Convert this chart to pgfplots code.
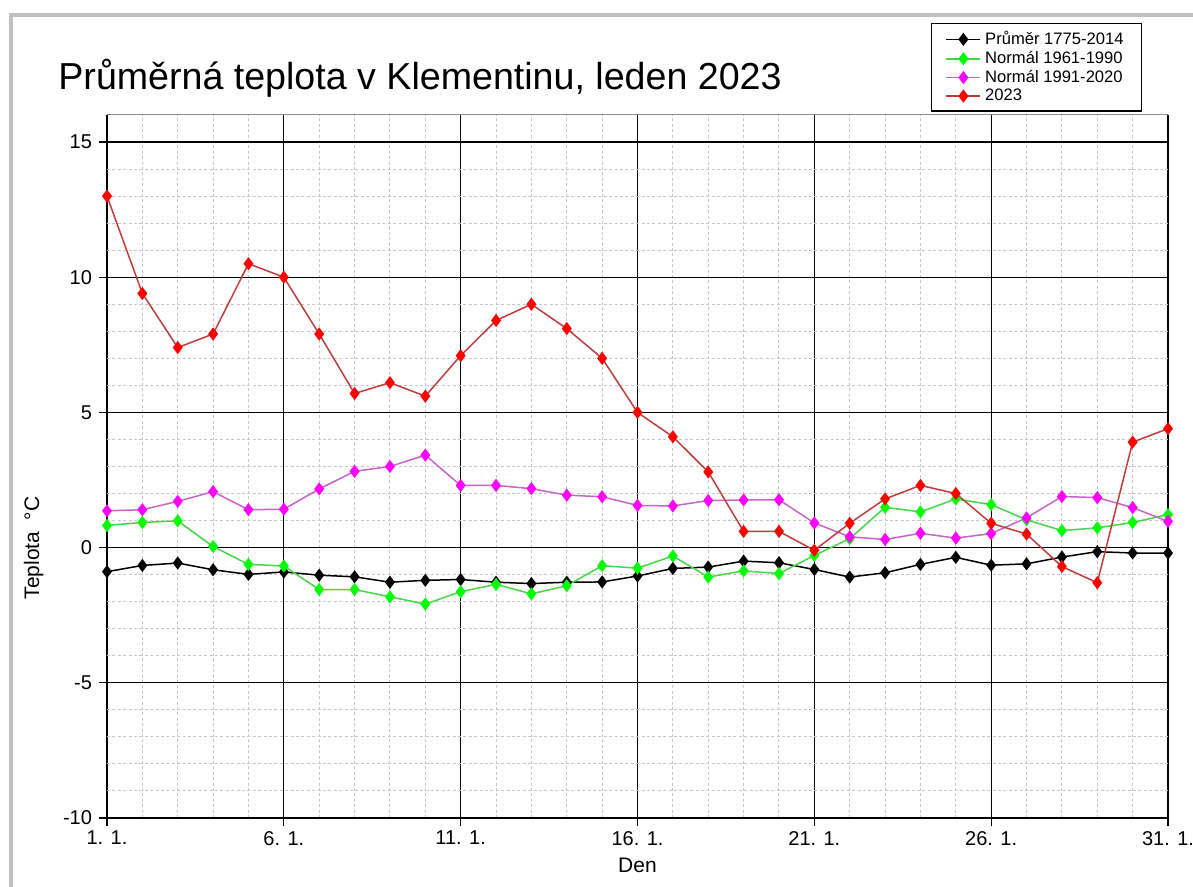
\documentclass[border=0pt]{standalone}
\usepackage{pgfplots}
\pgfplotsset{compat=1.18}
\usepackage{pgfplotstable}
\usepackage{fontspec}
\setmainfont{Liberation Sans}
\definecolor{mkred}{HTML}{FF0000}
\definecolor{lnred}{HTML}{C03C3C}
\definecolor{mkmag}{HTML}{FF00FF}
\definecolor{lnmag}{HTML}{C864C8}
\definecolor{mkgrn}{HTML}{00FF00}
\definecolor{lngrn}{HTML}{46D746}
\definecolor{frame}{HTML}{C0C0C0}

\pgfplotstableread{
d avg n6190 n9120 y2023
1 -0.89 0.82 1.36 13.0
2 -0.66 0.93 1.40 9.4
3 -0.57 0.99 1.71 7.4
4 -0.82 0.04 2.07 7.9
5 -0.99 -0.62 1.40 10.5
6 -0.90 -0.68 1.42 10.0
7 -1.02 -1.55 2.17 7.9
8 -1.08 -1.55 2.82 5.7
9 -1.28 -1.82 3.00 6.1
10 -1.21 -2.09 3.42 5.6
11 -1.18 -1.63 2.30 7.1
12 -1.28 -1.36 2.30 8.4
13 -1.33 -1.71 2.18 9.0
14 -1.28 -1.41 1.94 8.1
15 -1.27 -0.67 1.88 7.0
16 -1.05 -0.76 1.56 5.0
17 -0.77 -0.31 1.54 4.1
18 -0.72 -1.09 1.74 2.8
19 -0.50 -0.86 1.76 0.6
20 -0.56 -0.96 1.77 0.6
21 -0.81 -0.29 0.91 -0.1
22 -1.09 0.33 0.40 0.9
23 -0.93 1.49 0.30 1.8
24 -0.62 1.32 0.53 2.3
25 -0.36 1.80 0.35 2.0
26 -0.65 1.59 0.52 0.9
27 -0.60 1.03 1.10 0.5
28 -0.35 0.63 1.89 -0.7
29 -0.15 0.73 1.85 -1.3
30 -0.20 0.93 1.48 3.9
31 -0.20 1.22 0.97 4.4
}\datatable

\begin{document}
\begin{tikzpicture}[x=0.5pt,y=0.5pt]
\path[use as bounding box] (0,0) rectangle (1193,887);
\fill[white] (0,0) rectangle (1193,887);
\draw[frame, line width=2pt] (11,0) -- (11,872) -- (1193,872);
\node[anchor=base west, inner sep=0pt, font=\fontsize{18.8}{22}\selectfont] at (58,797) {Průměrná teplota v Klementinu, leden 2023};
\begin{axis}[
  at={(53.5pt,34.5pt)}, anchor=south west,
  width=530.5pt, height=351.5pt, scale only axis,
  xmin=1, xmax=31, ymin=-10, ymax=16,
  xtick={1,6,11,16,21,26,31},
  xticklabels={1. 1.,6. 1.,11. 1.,16. 1.,21. 1.,26. 1.,31. 1.},
  ytick={-10,-5,0,5,10,15},
  yticklabels={-10,-5,0,5,10,15},
  minor xtick={1,...,31},
  minor ytick={-10,...,16},
  grid=both,
  major grid style={black, line width=0.6pt},
  minor grid style={black!22, dash pattern=on 1.5pt off 1.2pt, line width=0.5pt},
  axis line style={draw=none},
  tick align=outside, xtick pos=bottom, ytick pos=left,
  major tick length=4pt, minor tick length=0pt,
  tick style={black, line width=0.6pt},
  ticklabel style={font=\fontsize{10}{11}\selectfont},
  xticklabel style={yshift=1pt},
  xlabel={Den}, ylabel={Teplota~~°C},
  label style={font=\fontsize{10.5}{12}\selectfont},
  xlabel style={at={(axis description cs:0.5,-0.068)}, anchor=center},
  ylabel style={at={(axis description cs:-0.069,0.384)}, anchor=center},
  legend style={at={(axis description cs:0.7766,1.1309)}, anchor=north west,
    draw=black, line width=0.6pt, font=\fontsize{8.3}{9.5}\selectfont,
    row sep=-2.2pt, inner xsep=7pt, inner ysep=1.8pt, cells={anchor=west}},
  legend cell align=left,
  every axis plot/.append style={line width=0.75pt, mark=diamond*, mark size=2.7pt},
]
\draw[black!45, line width=0.5pt] (rel axis cs:0,1) -- (rel axis cs:1,1);
\addplot[black, mark options={black}] table[x=d,y=avg] {\datatable};
\addlegendentry{Průměr 1775-2014}
\addplot[lngrn, mark options={draw=mkgrn, fill=mkgrn}] table[x=d,y=n6190] {\datatable};
\addlegendentry{Normál 1961-1990}
\addplot[lnmag, mark options={draw=mkmag, fill=mkmag}] table[x=d,y=n9120] {\datatable};
\addlegendentry{Normál 1991-2020}
\addplot[lnred, mark options={draw=mkred, fill=mkred}] table[x=d,y=y2023] {\datatable};
\addlegendentry{2023}
\end{axis}
\end{tikzpicture}
\end{document}
